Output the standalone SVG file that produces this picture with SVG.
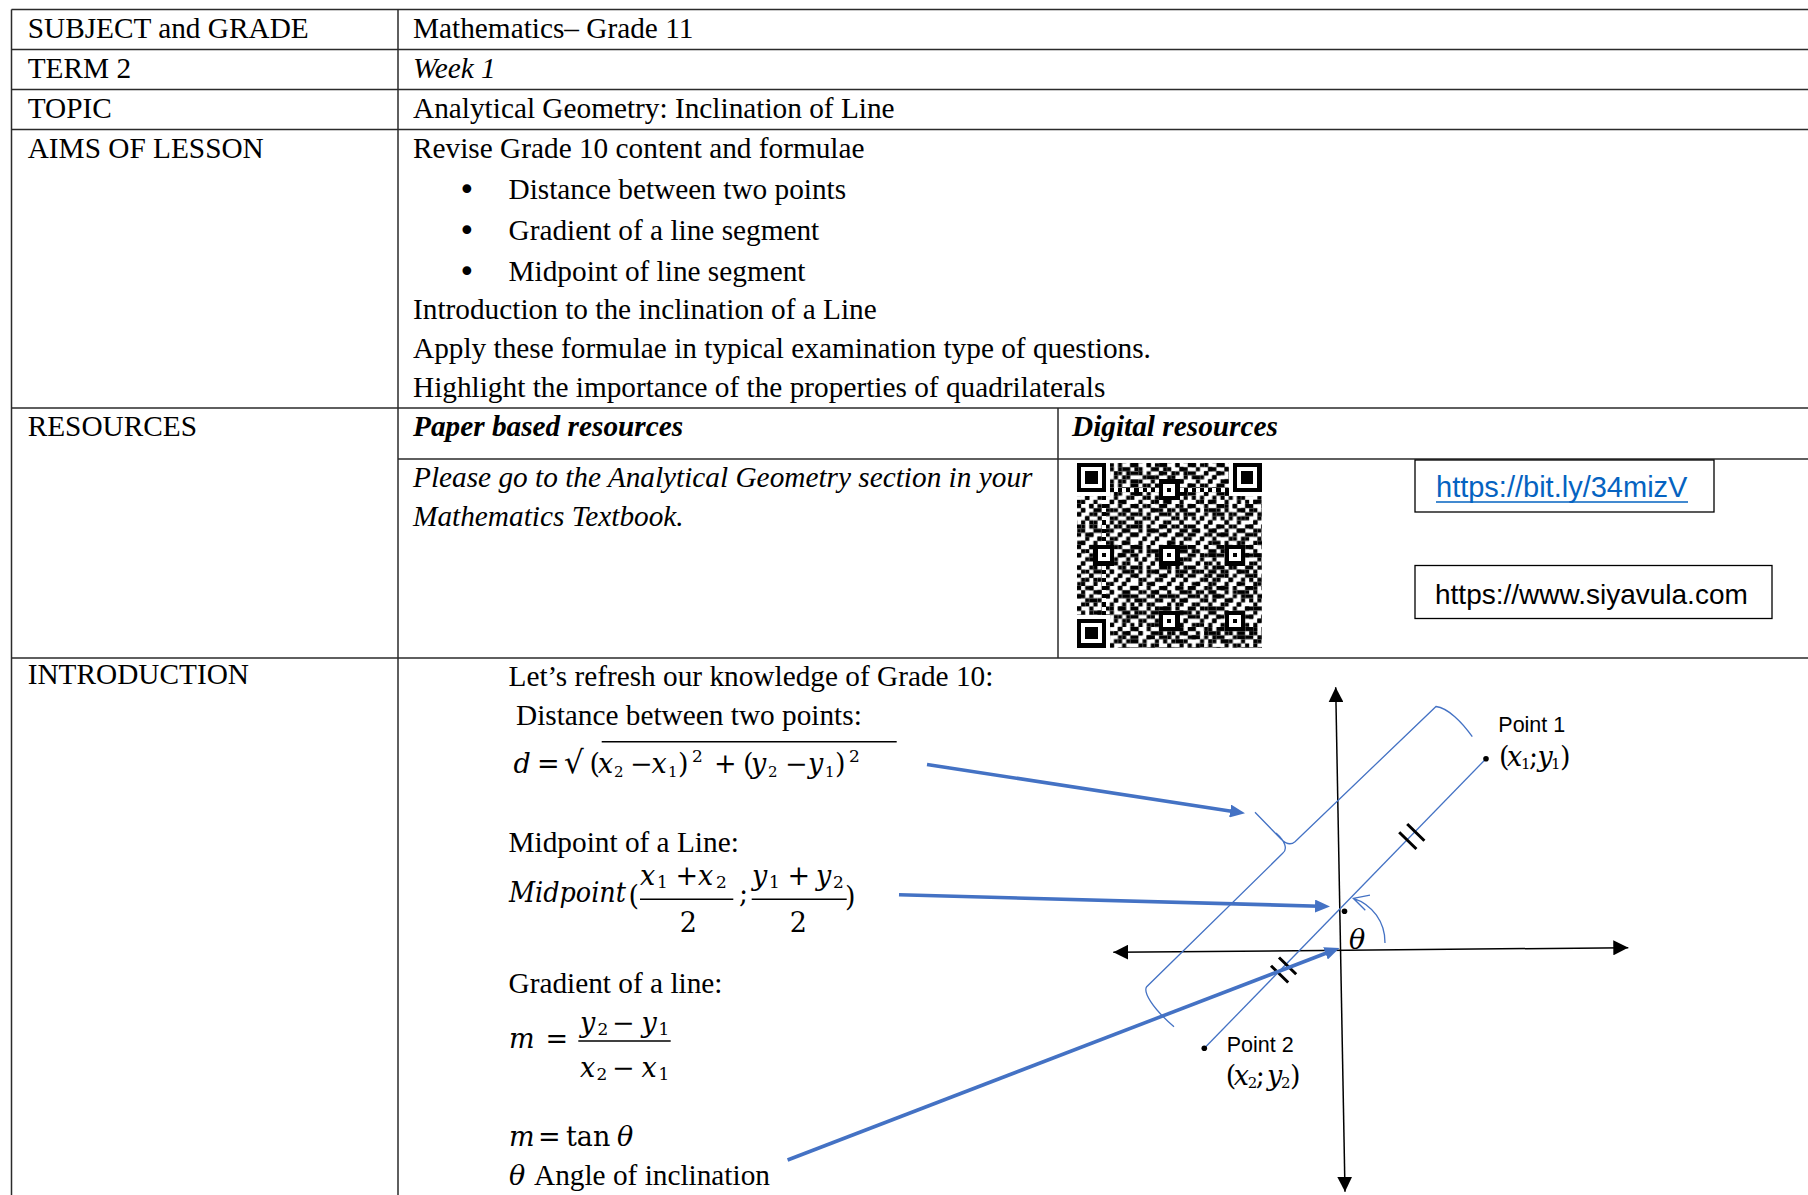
<svg xmlns="http://www.w3.org/2000/svg" width="1808" height="1195" viewBox="0 0 1808 1195">
<style>
.t{font-family:"Liberation Serif","Times New Roman",serif;font-size:29.3px;fill:#000}
.i{font-style:italic}
.bi{font-style:italic;font-weight:bold}
.bul{font-family:"DejaVu Sans",sans-serif;font-size:30px;fill:#000}
.grid{stroke:#2b2b2b;stroke-width:1.5;fill:none}
.m{font-family:"DejaVu Serif","Liberation Serif",serif;font-size:27px;fill:#000}
.mi{font-style:italic}
.sb{font-size:17px}
.ss{font-size:15px}
.sans{font-family:"Liberation Sans",Arial,sans-serif;fill:#000}
.thin{stroke:#4472C4;stroke-width:1.3;fill:none}
.thick{stroke:#4472C4;stroke-width:3.6;fill:none;marker-end:url(#bh)}
.axis{stroke:#000;stroke-width:1.5;fill:none;marker-start:url(#kh);marker-end:url(#kh)}
.tick{stroke:#000;stroke-width:3;fill:none}
.frac{stroke:#000;stroke-width:1.4}
.box{fill:#fff;stroke:#000;stroke-width:1.3}
</style>
<defs>
<marker id="kh" viewBox="0 0 10 10" refX="10" refY="5" markerWidth="15" markerHeight="15" markerUnits="userSpaceOnUse" orient="auto-start-reverse"><path d="M0,0L10,5L0,10z" fill="#000"/></marker>
<marker id="bh" viewBox="0 0 10 10" refX="3" refY="5" markerWidth="15" markerHeight="13" markerUnits="userSpaceOnUse" orient="auto" preserveAspectRatio="none"><path d="M0,0L10,5L0,10z" fill="#4472C4"/></marker>
<pattern id="qa" patternUnits="userSpaceOnUse" width="7" height="5"><path d="M0 0h1v1h-1zM3 0h1v1h-1zM6 0h1v1h-1zM1 1h1v1h-1zM4 1h2v1h-2zM0 2h1v1h-1zM3 2h1v1h-1zM6 2h1v1h-1zM2 3h1v1h-1zM5 3h1v1h-1zM1 4h1v1h-1zM4 4h1v1h-1z"/></pattern>
<pattern id="qb" patternUnits="userSpaceOnUse" x="3" y="2" width="11" height="13"><path d="M1 0h1v1h-1zM6 0h1v1h-1zM9 0h1v1h-1zM3 1h2v1h-2zM8 1h1v1h-1zM0 2h1v1h-1zM7 2h1v1h-1zM10 2h1v1h-1zM2 3h1v1h-1zM5 3h1v1h-1zM4 4h1v1h-1zM8 4h2v1h-2zM0 5h2v1h-2zM6 5h1v1h-1zM3 6h1v1h-1zM10 6h1v1h-1zM5 7h1v1h-1zM7 7h2v1h-2zM0 8h1v1h-1zM2 8h1v1h-1zM4 9h1v1h-1zM6 9h1v1h-1zM9 9h1v1h-1zM1 10h1v1h-1zM8 10h1v1h-1zM3 11h1v1h-1zM5 11h1v1h-1zM10 11h1v1h-1zM0 12h1v1h-1zM7 12h1v1h-1z"/></pattern>
</defs>
<rect width="1808" height="1195" fill="#fff"/>

<g id="table-grid" class="grid">
<path d="M11.5 9.5H1808M11.5 49.5H1808M11.5 89.5H1808M11.5 129.5H1808M11.5 408H1808M11.5 658H1808"/>
<path d="M11.5 9.5V1195M398 9.5V1195"/>
<path d="M398 459H1808M1058 408V658"/>
</g>

<g id="row-subject">
<text class="t" x="27.7" y="38">SUBJECT and GRADE</text>
<text class="t" x="413" y="38">Mathematics– Grade 11</text>
</g>
<g id="row-term">
<text class="t" x="27.7" y="78.3">TERM 2</text>
<text class="t i" x="413" y="78.3">Week 1</text>
</g>
<g id="row-topic">
<text class="t" x="27.7" y="117.8">TOPIC</text>
<text class="t" x="413" y="117.8">Analytical Geometry: Inclination of Line</text>
</g>
<g id="row-aims">
<text class="t" x="27.7" y="157.5">AIMS OF LESSON</text>
<text class="t" x="413" y="157.5">Revise Grade 10 content and formulae</text>
<text class="bul" x="458" y="200">•</text><text class="t" x="508.5" y="199">Distance between two points</text>
<text class="bul" x="458" y="240.5">•</text><text class="t" x="508.5" y="239.5">Gradient of a line segment</text>
<text class="bul" x="458" y="281.5">•</text><text class="t" x="508.5" y="280.5">Midpoint of line segment</text>
<text class="t" x="413" y="319">Introduction to the inclination of a Line</text>
<text class="t" x="413" y="358">Apply these formulae in typical examination type of questions.</text>
<text class="t" x="413" y="397.3">Highlight the importance of the properties of quadrilaterals</text>
</g>
<g id="row-resources">
<text class="t" x="27.7" y="435.5">RESOURCES</text>
<text class="t bi" x="413" y="435.5">Paper based resources</text>
<text class="t bi" x="1072" y="435.5">Digital resources</text>
<text class="t i" x="413" y="486.5">Please go to the Analytical Geometry section in your</text>
<text class="t i" x="413" y="525.5">Mathematics Textbook.</text>
</g>

<g id="qr-code" transform="translate(1077,463) scale(4.1)" shape-rendering="crispEdges">
<rect width="45" height="45" fill="url(#qa)"/>
<rect width="45" height="45" fill="url(#qb)"/>
<path fill="#fff" d="M0 0h8v8h-8zM37 0h8v8h-8zM0 37h8v8h-8zM4 20h5v5h-5zM20 4h5v5h-5zM20 20h5v5h-5zM36 20h5v5h-5zM20 36h5v5h-5zM36 36h5v5h-5zM8 6h29v1h-29zM6 8h1v29h-1z"/>
<path fill="#000" fill-rule="evenodd" d="M0 0h7v7h-7zM1 1v5h5v-5zM2 2h3v3h-3zM38 0h7v7h-7zM39 1v5h5v-5zM40 2h3v3h-3zM0 38h7v7h-7zM1 39v5h5v-5zM2 40h3v3h-3zM4 20h5v5h-5zM5 21v3h3v-3zM6 22h1v1h-1zM20 4h5v5h-5zM21 5v3h3v-3zM22 6h1v1h-1zM20 20h5v5h-5zM21 21v3h3v-3zM22 22h1v1h-1zM36 20h5v5h-5zM37 21v3h3v-3zM38 22h1v1h-1zM20 36h5v5h-5zM21 37v3h3v-3zM22 38h1v1h-1zM36 36h5v5h-5zM37 37v3h3v-3zM38 38h1v1h-1z"/>
<path fill="#000" d="M8 6h1v1h-1zM10 6h1v1h-1zM12 6h1v1h-1zM14 6h1v1h-1zM16 6h1v1h-1zM18 6h1v1h-1zM26 6h1v1h-1zM28 6h1v1h-1zM30 6h1v1h-1zM32 6h1v1h-1zM34 6h1v1h-1zM36 6h1v1h-1zM6 8h1v1h-1zM6 10h1v1h-1zM6 12h1v1h-1zM6 14h1v1h-1zM6 16h1v1h-1zM6 18h1v1h-1zM6 26h1v1h-1zM6 28h1v1h-1zM6 30h1v1h-1zM6 32h1v1h-1zM6 34h1v1h-1zM6 36h1v1h-1z"/>
</g>

<g id="link-bitly">
<rect class="box" x="1415" y="460" width="299" height="52"/>
<text class="sans" x="1436" y="497" font-size="29" style="fill:#0563C1">https://bit.ly/34mizV</text>
<line x1="1436" y1="502" x2="1688" y2="502" stroke="#0563C1" stroke-width="1.5"/>
</g>
<g id="link-siyavula">
<rect class="box" x="1415" y="565.5" width="357" height="53"/>
<text class="sans" x="1435" y="604" font-size="28">https://www.siyavula.com</text>
</g>

<g id="row-introduction">
<text class="t" x="27.7" y="683.5">INTRODUCTION</text>
<text class="t" x="508.5" y="686">Let’s refresh our knowledge of Grade 10:</text>
<text class="t" x="516" y="724.5">Distance between two points:</text>
<text class="t" x="508.5" y="851.5">Midpoint of a Line:</text>
<text class="t" x="508.5" y="993">Gradient of a line:</text>
</g>

<g id="formula-distance">
<line class="frac" x1="601.7" y1="741.7" x2="896.7" y2="741.7"/>
<text class="m" y="773">
<tspan x="513.5" class="mi">d</tspan><tspan x="537">=</tspan><tspan x="564" font-size="31">√</tspan><tspan x="589.5">(</tspan><tspan x="598" class="mi">x</tspan><tspan x="614" y="777" class="ss">2</tspan><tspan x="630" y="773">−</tspan><tspan x="651.5" class="mi">x</tspan><tspan x="668" y="777" class="ss">1</tspan><tspan x="678" y="773">)</tspan><tspan x="692" y="762" class="sb">2</tspan><tspan x="714" y="773">+</tspan><tspan x="743">(</tspan><tspan x="751" class="mi">y</tspan><tspan x="768" y="777" class="ss">2</tspan><tspan x="785" y="773">−</tspan><tspan x="808" class="mi">y</tspan><tspan x="825" y="777" class="ss">1</tspan><tspan x="835" y="773">)</tspan><tspan x="849" y="762" class="sb">2</tspan>
</text>
</g>

<g id="formula-midpoint">
<line class="frac" x1="640" y1="899.3" x2="733.3" y2="899.3"/>
<line class="frac" x1="751.7" y1="899.3" x2="846.7" y2="899.3"/>
<text class="m mi" x="509" y="902" textLength="117" lengthAdjust="spacingAndGlyphs">Midpoint</text>
<text class="m" y="885">
<tspan x="628.5" y="905">(</tspan><tspan x="640" y="885" class="mi">x</tspan><tspan x="657" y="888" class="sb">1</tspan><tspan x="675.6" y="885">+</tspan><tspan x="698" class="mi">x</tspan><tspan x="716" y="888" class="sb">2</tspan><tspan x="739" y="903">;</tspan><tspan x="752" y="885" class="mi">y</tspan><tspan x="769" y="888" class="sb">1</tspan><tspan x="787.5" y="885">+</tspan><tspan x="816" class="mi">y</tspan><tspan x="833" y="888" class="sb">2</tspan><tspan x="845" y="906">)</tspan>
</text>
<text class="m" x="688.3" y="931.7" text-anchor="middle" font-size="26">2</text>
<text class="m" x="798.3" y="931.7" text-anchor="middle" font-size="26">2</text>
</g>

<g id="formula-gradient">
<line class="frac" x1="578.3" y1="1041" x2="670.7" y2="1041"/>
<text class="m" y="1048.3"><tspan x="509" class="mi">m</tspan><tspan x="545.5">=</tspan></text>
<text class="m" y="1031.7"><tspan x="580" class="mi">y</tspan><tspan x="597.5" y="1035" class="sb">2</tspan><tspan x="612" y="1031.7">−</tspan><tspan x="641.5" class="mi">y</tspan><tspan x="658.5" y="1035" class="sb">1</tspan></text>
<text class="m" y="1076.7"><tspan x="580" class="mi">x</tspan><tspan x="596.5" y="1080" class="sb">2</tspan><tspan x="612" y="1076.7">−</tspan><tspan x="641.5" class="mi">x</tspan><tspan x="658.5" y="1080" class="sb">1</tspan></text>
</g>

<g id="formula-tan">
<text class="m" y="1146"><tspan x="509" class="mi">m</tspan><tspan x="538">=</tspan><tspan x="566">tan</tspan><tspan x="617" class="mi">θ</tspan></text>
<text class="m mi" x="509" y="1185">θ</text>
<text class="t" x="534" y="1185">Angle of inclination</text>
</g>

<g id="diagram-axes">
<line class="axis" x1="1335.7" y1="687.3" x2="1345" y2="1191.7"/>
<line class="axis" x1="1113.3" y1="952.3" x2="1628.3" y2="947.7"/>
<text class="m mi" x="1349" y="949">θ</text>
<path class="thin" d="M1385,943 A45,46 0 0 0 1353.3,898.3 M1365.3,910.3 L1353.3,898.3 L1370,895.1"/>
</g>

<g id="diagram-segment">
<line class="thin" x1="1204.3" y1="1048.3" x2="1486" y2="758.7"/>
<path class="tick" d="M1399.2,832.2L1416.4,849M1407.2,824L1424.4,840.8M1271,965.7L1288.2,982.5M1279,957.5L1296.2,974.3"/>
<circle cx="1486" cy="758.7" r="2.8"/>
<circle cx="1204.3" cy="1048.3" r="2.8"/>
<circle cx="1344.5" cy="911.3" r="2.8"/>
<text class="sans" x="1498.3" y="732.3" font-size="21.5">Point 1</text>
<text class="m" y="766" font-size="24"><tspan x="1499">(</tspan><tspan x="1507" class="mi">x</tspan><tspan x="1521" y="769" font-size="15">1</tspan><tspan x="1529" y="766">;</tspan><tspan x="1537.5" class="mi">y</tspan><tspan x="1551" y="769" font-size="15">1</tspan><tspan x="1560" y="766">)</tspan></text>
<text class="sans" x="1226.7" y="1051.7" font-size="21.5">Point 2</text>
<text class="m" y="1085" font-size="24"><tspan x="1225.7">(</tspan><tspan x="1233.7" class="mi">x</tspan><tspan x="1247.7" y="1088" font-size="15">2</tspan><tspan x="1255.7" y="1085">;</tspan><tspan x="1267" class="mi">y</tspan><tspan x="1281" y="1088" font-size="15">2</tspan><tspan x="1290" y="1085">)</tspan></text>
</g>

<g id="diagram-brace">
<path class="thin" d="M1472.3,736.7 C1462,722 1448,708 1436,706.5 L1295,841.7 C1291,845 1286,844 1281,839 L1255,812.3 M1276,833 C1285,841 1288,849 1282.7,853.3 L1146.7,986.7 C1143,992 1152,1008 1174,1026.7"/>
</g>

<g id="connectors">
<line class="thick" x1="927" y1="764.5" x2="1234.6" y2="811.7"/>
<line class="thick" x1="899" y1="894.8" x2="1319.5" y2="906.2"/>
<line class="thick" x1="787.6" y1="1160" x2="1329.7" y2="951.8"/>
</g>
</svg>
